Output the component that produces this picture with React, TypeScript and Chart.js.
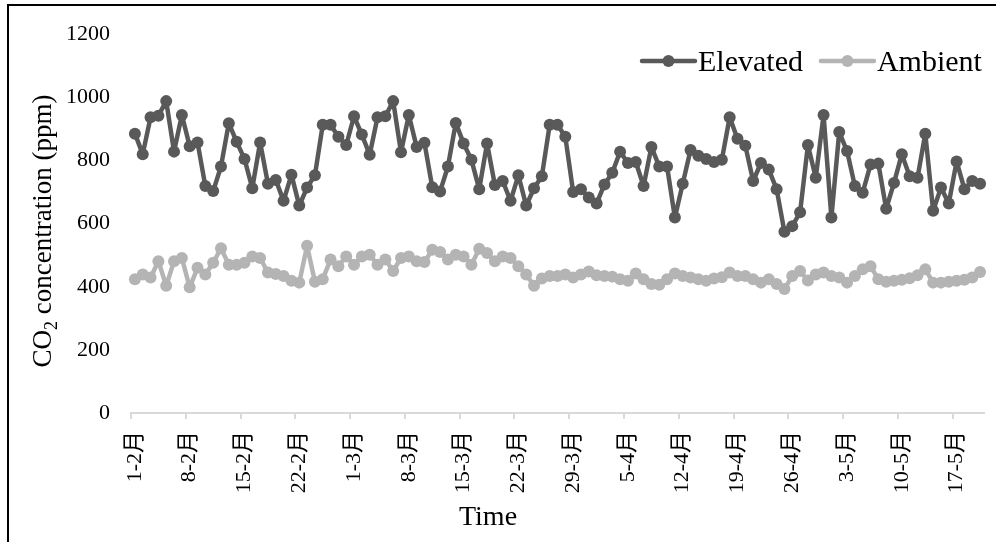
import React, { useEffect, useRef } from 'react';
import { Chart, registerables } from 'chart.js';

Chart.register(...registerables);

// ---- Data ----
const MONTH_SPANS: [number, number][] = [
  [2, 28],
  [3, 31],
  [4, 30],
  [5, 20],
];
const DATE_LABELS: string[] = [];
for (const [m, days] of MONTH_SPANS) {
  for (let d = 1; d <= days; d++) DATE_LABELS.push(`${d}-${m}月`);
}
const TICK_EVERY = 7;

const ELEVATED: number[] = [
  885, 820, 937, 942, 988, 828, 944, 845, 857, 719,
  703, 781, 918, 859, 805, 712, 857, 726, 738, 672,
  755, 657, 714, 753, 913, 913, 875, 849, 940, 882,
  818, 937, 940, 988, 826, 944, 843, 856, 715, 702,
  781, 919, 854, 802, 709, 854, 722, 735, 672, 753,
  657, 712, 750, 913, 913, 875, 700, 709, 683, 664,
  724, 761, 828, 792, 795, 719, 843, 781, 781, 619,
  726, 833, 815, 805, 795, 802, 937, 869, 847, 735,
  792, 771, 709, 574, 592, 636, 849, 745, 944, 619,
  890, 830, 719, 698, 787, 790, 647, 729, 820, 750,
  745, 885, 641, 714, 664, 797, 709, 735, 726,
];

const AMBIENT: number[] = [
  424, 439, 429, 481, 403, 481, 491, 398, 460, 439,
  476, 522, 470, 470, 476, 496, 491, 445, 440, 434,
  419, 413, 530, 416, 424, 486, 465, 496, 470, 496,
  501, 470, 486, 450, 491, 496, 481, 478, 517, 510,
  486, 501, 496, 470, 520, 507, 481, 496, 491, 465,
  439, 403, 426, 434, 434, 439, 429, 439, 448, 436,
  434, 432, 424, 419, 442, 424, 409, 406, 424, 442,
  434, 429, 424, 419, 426, 430, 445, 434, 434, 424,
  413, 424, 409, 393, 434, 450, 420, 439, 445, 434,
  429, 413, 434, 455, 465, 424, 416, 419, 422, 427,
  436, 455, 413, 413, 416, 419, 422, 429, 447,
];

const SERIES_LABELS = ['Elevated', 'Ambient'];
const SERIES_COLORS = ['#595959', '#b4b4b4'];
const Y_MIN = 0;
const Y_MAX = 1200;
const Y_STEP = 200;
const X_TITLE = 'Time';
const Y_TITLE_PARTS = ['CO', '2', ' concentration (ppm)'];

const SERIF = "'Liberation Serif', 'Times New Roman', 'Noto Sans CJK SC', serif";

const decorPlugin = {
  id: 'decor',
  afterDraw(chart: any) {
    const ctx: CanvasRenderingContext2D = chart.ctx;
    ctx.save();
    // outer frame
    ctx.strokeStyle = '#000';
    ctx.lineWidth = 2;
    ctx.strokeRect(8, 5, 2000, 2000);

    // legend
    const legendFont = `30px ${SERIF}`;
    ctx.textBaseline = 'alphabetic';
    ctx.textAlign = 'left';
    let x = 642;
    const ly = 61;
    chart.data.datasets.forEach((ds: any) => {
      const color = ds.borderColor as string;
      ctx.strokeStyle = color;
      ctx.lineWidth = 4.5;
      ctx.lineCap = 'round';
      ctx.beginPath();
      ctx.moveTo(x, ly);
      ctx.lineTo(x + 53, ly);
      ctx.stroke();
      ctx.fillStyle = color;
      ctx.beginPath();
      ctx.arc(x + 26.5, ly, 6, 0, Math.PI * 2);
      ctx.fill();
      ctx.fillStyle = '#000';
      ctx.font = legendFont;
      ctx.fillText(ds.label, x + 56, 71);
      x += 56 + ctx.measureText(ds.label).width + 18;
    });

    // x title
    ctx.fillStyle = '#000';
    ctx.font = `28px ${SERIF}`;
    ctx.textAlign = 'center';
    ctx.fillText(X_TITLE, 488, 525);

    // y title with subscript
    ctx.save();
    ctx.translate(51, 231);
    ctx.rotate(-Math.PI / 2);
    ctx.textAlign = 'left';
    const bigFont = `27px ${SERIF}`;
    const subFont = `18px ${SERIF}`;
    ctx.font = bigFont;
    const w1 = ctx.measureText(Y_TITLE_PARTS[0]).width;
    const w3 = ctx.measureText(Y_TITLE_PARTS[2]).width;
    ctx.font = subFont;
    const w2 = ctx.measureText(Y_TITLE_PARTS[1]).width;
    const start = -(w1 + w2 + w3) / 2;
    ctx.font = bigFont;
    ctx.fillText(Y_TITLE_PARTS[0], start, 0);
    ctx.font = subFont;
    ctx.fillText(Y_TITLE_PARTS[1], start + w1, 6);
    ctx.font = bigFont;
    ctx.fillText(Y_TITLE_PARTS[2], start + w1 + w2, 0);
    ctx.restore();

    ctx.restore();
  },
};

export default function App() {
  const canvasRef = useRef<HTMLCanvasElement | null>(null);

  useEffect(() => {
    document.body.style.margin = '0';
    const canvas = canvasRef.current;
    if (!canvas) return;
    const seriesData = [ELEVATED, AMBIENT];
    const chart = new Chart(canvas, {
      type: 'line',
      data: {
        labels: DATE_LABELS,
        datasets: seriesData.map((d, i) => ({
          label: SERIES_LABELS[i],
          data: d,
          borderColor: SERIES_COLORS[i],
          backgroundColor: SERIES_COLORS[i],
          pointBackgroundColor: SERIES_COLORS[i],
          pointBorderColor: SERIES_COLORS[i],
          pointBorderWidth: 0,
          pointRadius: 6,
          borderWidth: 4.5,
          borderJoinStyle: 'round' as const,
          tension: 0,
          fill: false,
        })),
      },
      options: {
        responsive: false,
        animation: false,
        devicePixelRatio: 1,
        layout: { padding: { left: 0, right: 12, top: 27, bottom: 0 } },
        plugins: {
          legend: { display: false },
          tooltip: { enabled: false },
          title: { display: false },
        },
        scales: {
          x: {
            type: 'category',
            offset: true,
            grid: {
              offset: true,
              drawOnChartArea: false,
              drawTicks: true,
              tickLength: 6,
              lineWidth: 2,
              color: (c: any) => (c.index % TICK_EVERY === 0 ? '#d9d9d9' : 'rgba(0,0,0,0)'),
            },
            border: { display: true, color: '#d9d9d9', width: 2 },
            ticks: {
              autoSkip: false,
              minRotation: 90,
              maxRotation: 90,
              padding: 12,
              color: '#000',
              font: { family: SERIF, size: 22 },
              callback: (_v: any, i: number) => (i % TICK_EVERY === 0 ? DATE_LABELS[i] : ''),
            },
            afterFit: (scale: any) => {
              scale.height = 129;
              scale.paddingLeft = 0;
              scale.paddingRight = 0;
            },
          },
          y: {
            min: Y_MIN,
            max: Y_MAX,
            grid: { display: false, drawTicks: false },
            border: { display: false },
            ticks: {
              stepSize: Y_STEP,
              padding: 21,
              color: '#000',
              font: { family: SERIF, size: 22 },
              callback: (v: any) => String(v),
            },
            afterFit: (scale: any) => {
              scale.width = 131;
            },
          },
        },
      },
      plugins: [decorPlugin],
    });
    return () => chart.destroy();
  }, []);

  return (
    <canvas
      ref={canvasRef}
      width={996}
      height={542}
      style={{ display: 'block', width: 996, height: 542 }}
    />
  );
}
